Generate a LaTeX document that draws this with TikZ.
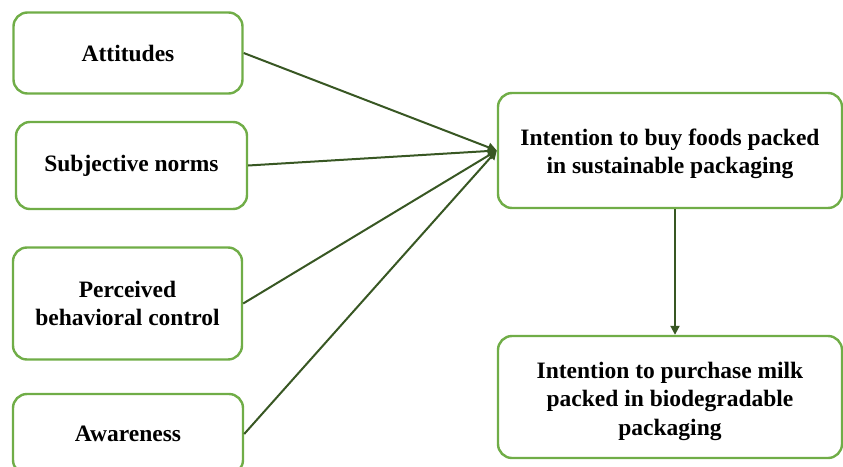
\documentclass[tikz,border=0pt]{standalone}
\usepackage{fontspec}
\setmainfont{Liberation Serif}
\usepackage{xcolor}
\usepackage{tikz}
\usetikzlibrary{arrows.meta,
                positioning}

\definecolor{boxgreen}{RGB}{112,173,71}
\definecolor{arrowgreen}{RGB}{56,87,35}

\begin{document}
\begin{tikzpicture}[x=1pt,y=-1pt,
    factortext/.style={align=center,inner sep=0pt,
                   font=\fontsize{23.5}{28.5}\selectfont\bfseries},
    factor/.style={factortext,draw=boxgreen,line width=2.4pt,rounded corners=14pt,
                   fill=white},
    link/.style={draw=arrowgreen,line width=2pt,-{Triangle[length=9pt,width=9pt]}}]
\useasboundingbox (0,0) rectangle (843,466);

\node[factor,minimum width=229pt,minimum height=81pt] (att) at (128,53) {Attitudes};
\node[factor,minimum width=231pt,minimum height=87pt] (sub) at (131.5,165.5) {Subjective norms};
\node[factor,minimum width=229pt,minimum height=112pt] (pbc) at (127.5,303.5) {Perceived\\behavioral control};
\node[factor,minimum width=230pt,minimum height=80pt] (awa) at (128,434) {Awareness};

\node[factor,minimum width=344pt,minimum height=115pt] (buy) at (670,150.5) {};
\node[factortext] (buytext) at (670,154) {Intention to buy foods packed\\in sustainable packaging};
\node[factor,minimum width=344pt,minimum height=122pt] (milk) at (670,397) {};
\node[factortext] (milktext) at (670,401) {Intention to purchase milk\\packed in biodegradable\\packaging};

\foreach \src in {att,sub,pbc,awa}
  \draw[link] (\src.east) -- (buy.west);

\draw[link] ([xshift=5pt]buy.south) -- ([xshift=5pt]milk.north);
\end{tikzpicture}
\end{document}
